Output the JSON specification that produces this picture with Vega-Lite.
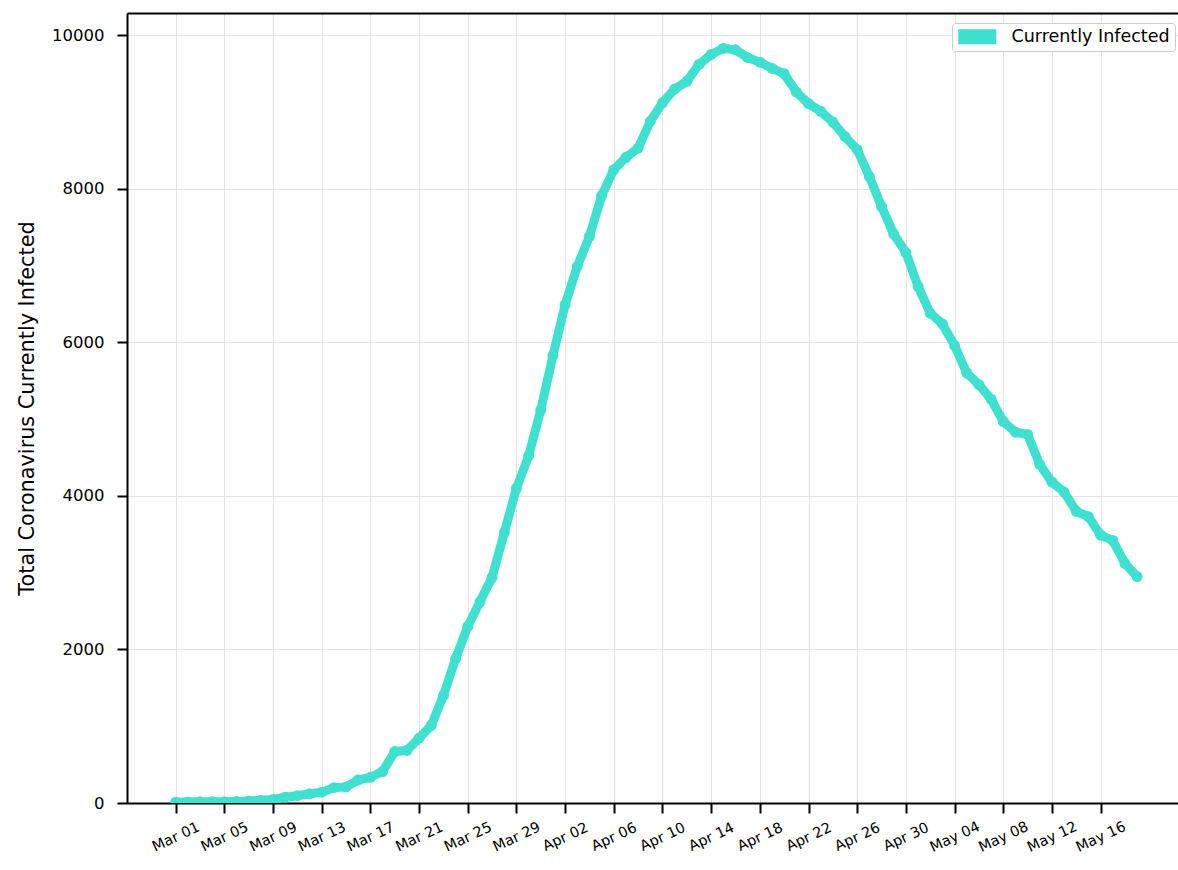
{
  "$schema": "https://vega.github.io/schema/vega-lite/v6.json",
  "width": 1051,
  "height": 790,
  "autosize": {"type": "none"},
  "padding": {"left": 127, "top": 13, "right": 0, "bottom": 67},
  "background": "white",
  "config": {
    "font": "DejaVu Sans",
    "view": {"stroke": null},
    "axis": {
      "domainColor": "black",
      "domainWidth": 2,
      "tickColor": "black",
      "tickWidth": 2,
      "tickSize": 10,
      "labelColor": "black",
      "gridColor": "#e3e3e3",
      "gridWidth": 1,
      "labelFont": "DejaVu Sans",
      "titleFont": "DejaVu Sans",
      "titleColor": "black",
      "titleFontWeight": "normal"
    }
  },
  "data": {
    "values": [
      {"date": "2020-03-01", "infected": 10},
      {"date": "2020-03-02", "infected": 12},
      {"date": "2020-03-03", "infected": 15},
      {"date": "2020-03-04", "infected": 15},
      {"date": "2020-03-05", "infected": 17},
      {"date": "2020-03-06", "infected": 20},
      {"date": "2020-03-07", "infected": 25},
      {"date": "2020-03-08", "infected": 35},
      {"date": "2020-03-09", "infected": 45},
      {"date": "2020-03-10", "infected": 75},
      {"date": "2020-03-11", "infected": 95},
      {"date": "2020-03-12", "infected": 120},
      {"date": "2020-03-13", "infected": 140},
      {"date": "2020-03-14", "infected": 200},
      {"date": "2020-03-15", "infected": 210},
      {"date": "2020-03-16", "infected": 300},
      {"date": "2020-03-17", "infected": 335},
      {"date": "2020-03-18", "infected": 410},
      {"date": "2020-03-19", "infected": 670},
      {"date": "2020-03-20", "infected": 685},
      {"date": "2020-03-21", "infected": 845},
      {"date": "2020-03-22", "infected": 1010},
      {"date": "2020-03-23", "infected": 1400},
      {"date": "2020-03-24", "infected": 1880},
      {"date": "2020-03-25", "infected": 2300},
      {"date": "2020-03-26", "infected": 2620},
      {"date": "2020-03-27", "infected": 2940},
      {"date": "2020-03-28", "infected": 3520},
      {"date": "2020-03-29", "infected": 4100},
      {"date": "2020-03-30", "infected": 4520},
      {"date": "2020-03-31", "infected": 5120},
      {"date": "2020-04-01", "infected": 5830},
      {"date": "2020-04-02", "infected": 6490},
      {"date": "2020-04-03", "infected": 6990},
      {"date": "2020-04-04", "infected": 7380},
      {"date": "2020-04-05", "infected": 7910},
      {"date": "2020-04-06", "infected": 8250},
      {"date": "2020-04-07", "infected": 8410},
      {"date": "2020-04-08", "infected": 8530},
      {"date": "2020-04-09", "infected": 8880},
      {"date": "2020-04-10", "infected": 9120},
      {"date": "2020-04-11", "infected": 9300},
      {"date": "2020-04-12", "infected": 9400},
      {"date": "2020-04-13", "infected": 9620},
      {"date": "2020-04-14", "infected": 9750},
      {"date": "2020-04-15", "infected": 9830},
      {"date": "2020-04-16", "infected": 9810},
      {"date": "2020-04-17", "infected": 9710},
      {"date": "2020-04-18", "infected": 9650},
      {"date": "2020-04-19", "infected": 9570},
      {"date": "2020-04-20", "infected": 9500},
      {"date": "2020-04-21", "infected": 9260},
      {"date": "2020-04-22", "infected": 9110},
      {"date": "2020-04-23", "infected": 9010},
      {"date": "2020-04-24", "infected": 8870},
      {"date": "2020-04-25", "infected": 8680},
      {"date": "2020-04-26", "infected": 8510},
      {"date": "2020-04-27", "infected": 8160},
      {"date": "2020-04-28", "infected": 7770},
      {"date": "2020-04-29", "infected": 7410},
      {"date": "2020-04-30", "infected": 7170},
      {"date": "2020-05-01", "infected": 6730},
      {"date": "2020-05-02", "infected": 6380},
      {"date": "2020-05-03", "infected": 6240},
      {"date": "2020-05-04", "infected": 5960},
      {"date": "2020-05-05", "infected": 5600},
      {"date": "2020-05-06", "infected": 5450},
      {"date": "2020-05-07", "infected": 5260},
      {"date": "2020-05-08", "infected": 4970},
      {"date": "2020-05-09", "infected": 4830},
      {"date": "2020-05-10", "infected": 4800},
      {"date": "2020-05-11", "infected": 4410},
      {"date": "2020-05-12", "infected": 4180},
      {"date": "2020-05-13", "infected": 4050},
      {"date": "2020-05-14", "infected": 3800},
      {"date": "2020-05-15", "infected": 3730},
      {"date": "2020-05-16", "infected": 3490},
      {"date": "2020-05-17", "infected": 3420},
      {"date": "2020-05-18", "infected": 3120},
      {"date": "2020-05-19", "infected": 2950}
    ]
  },
  "layer": [
    {
      "mark": {"type": "line", "color": "#40E0D0", "strokeWidth": 9, "strokeJoin": "round", "strokeCap": "round", "clip": true},
      "encoding": {
        "x": {
          "field": "date",
          "type": "temporal",
          "scale": {"type": "utc", "domain": [1582675200000, 1590136704000], "nice": false},
          "axis": {
            "values": [1583020800000, 1583366400000, 1583712000000, 1584057600000, 1584403200000, 1584748800000, 1585094400000, 1585440000000, 1585785600000, 1586131200000, 1586476800000, 1586822400000, 1587168000000, 1587513600000, 1587859200000, 1588204800000, 1588550400000, 1588896000000, 1589241600000, 1589587200000],
            "format": "%b %d",
            "labelAngle": -25,
            "labelAlign": "center",
            "labelBaseline": "middle",
            "labelPadding": 24,
            "labelFontSize": 14.5,
            "labelOverlap": false,
            "labelFlush": false,
            "grid": true,
            "title": null
          }
        },
        "y": {
          "field": "infected",
          "type": "quantitative",
          "scale": {"domain": [0, 10290], "nice": false, "zero": true},
          "axis": {
            "values": [0, 2000, 4000, 6000, 8000, 10000],
            "format": "d",
            "labelFontSize": 16.5,
            "labelPadding": 13,
            "grid": true,
            "title": "Total Coronavirus Currently Infected",
            "titleFontSize": 20.8,
            "titlePadding": 14
          }
        },
        "color": {
          "datum": "Currently Infected",
          "type": "nominal",
          "scale": {"range": ["#40E0D0"]},
          "legend": {
            "orient": "none",
            "legendX": 825,
            "legendY": 10,
            "title": null,
            "padding": 5,
            "strokeColor": "#cccccc",
            "fillColor": "white",
            "cornerRadius": 3,
            "labelFontSize": 17.5,
            "labelFont": "DejaVu Sans",
            "labelColor": "black",
            "labelOffset": 37,
            "symbolType": "M-1,-1H4.07V1H-1Z",
            "symbolSize": 225,
            "symbolStrokeWidth": 0,
            "symbolFillColor": "#40E0D0",
            "encode": {
              "symbols": {
                "update": {
                  "fill": {"value": "#40E0D0"},
                  "stroke": {"value": "transparent"},
                  "strokeWidth": {"value": 0},
                  "shape": {"value": "M-1,-1H4.07V1H-1Z"},
                  "size": {"value": 225}
                }
              }
            }
          }
        }
      }
    },
    {
      "mark": {"type": "circle", "color": "#40E0D0", "size": 120, "opacity": 1, "clip": true},
      "encoding": {
        "x": {"field": "date", "type": "temporal", "axis": null},
        "y": {"field": "infected", "type": "quantitative"}
      }
    },
    {
      "mark": {"type": "point", "opacity": 0},
      "encoding": {
        "x": {
          "field": "date",
          "type": "temporal",
          "axis": {"orient": "top", "labels": false, "ticks": false, "grid": false, "title": null, "domain": true, "domainColor": "black", "domainWidth": 2}
        },
        "y": {"field": "infected", "type": "quantitative"}
      }
    }
  ],
  "resolve": {"axis": {"x": "independent"}}
}
